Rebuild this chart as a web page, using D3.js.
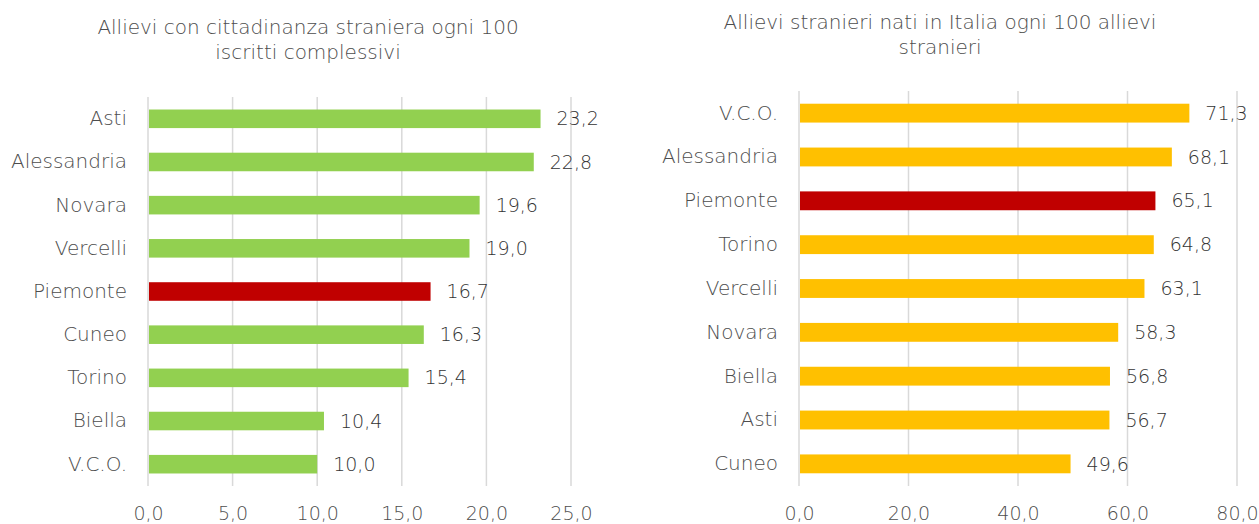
<!DOCTYPE html>
<html>
<head>
<meta charset="utf-8">
<script src="https://cdn.jsdelivr.net/npm/d3@7"></script>
<style>
  body { margin: 0; background: #fff; }
  text { font-family: "DejaVu Sans", sans-serif; font-weight: 200; }
</style>
</head>
<body>
<script>
// chart 1: allievi stranieri ogni 100 iscritti
var cat1 = ["Asti", "Alessandria", "Novara", "Vercelli", "Piemonte", "Cuneo", "Torino", "Biella", "V.C.O."];
var val1 = [23.2, 22.8, 19.6, 19.0, 16.7, 16.3, 15.4, 10.4, 10.0];
var ticks1 = [0, 5, 10, 15, 20, 25];
var title1 = ["Allievi con cittadinanza straniera ogni 100", "iscritti complessivi"];

// chart 2: stranieri nati in Italia ogni 100 stranieri
var cat2 = ["V.C.O.", "Alessandria", "Piemonte", "Torino", "Vercelli", "Novara", "Biella", "Asti", "Cuneo"];
var val2 = [71.3, 68.1, 65.1, 64.8, 63.1, 58.3, 56.8, 56.7, 49.6];
var ticks2 = [0, 20, 40, 60, 80];
var title2 = ["Allievi stranieri nati in Italia ogni 100 allievi", "stranieri"];

var width = 1259, height = 524;
var fmt = v => v.toFixed(1).replace(".", ",");
var font = "'DejaVu Sans', sans-serif";

var svg = d3.select("body").append("svg")
    .attr("width", width)
    .attr("height", height);

function drawChart(cfg) {
    var data = cfg.cats.map((c, i) => ({name: c, value: cfg.vals[i]}));

    var x = d3.scaleLinear()
        .domain([0, cfg.ticks[cfg.ticks.length - 1]])
        .range([cfg.x0, cfg.x1]);

    var y = d3.scaleBand()
        .domain(cfg.cats)
        .range([cfg.top, cfg.bottom])
        .paddingInner(0.57)
        .paddingOuter(0.29);

    var g = svg.append("g");

    // title
    g.append("text")
        .attr("x", cfg.titleX)
        .attr("y", cfg.titleY)
        .attr("text-anchor", "middle")
        .attr("fill", "#4d4d4d")
        .style("font-size", "20px")
        .selectAll("tspan").data(cfg.title).enter().append("tspan")
            .attr("x", cfg.titleX)
            .attr("dy", (d, i) => i == 0 ? 0 : 25)
            .text(d => d);

    // gridlines
    g.append("g")
        .selectAll("line").data(cfg.ticks).enter().append("line")
            .attr("x1", d => x(d))
            .attr("x2", d => x(d))
            .attr("y1", cfg.top)
            .attr("y2", cfg.bottom)
            .attr("stroke", "#d9d9d9")
            .attr("stroke-width", 1.5);

    // x axis
    var xAxis = d3.axisBottom(x)
        .tickValues(cfg.ticks)
        .tickFormat(fmt)
        .tickSize(0)
        .tickPadding(21);
    g.append("g")
        .attr("transform", `translate(0,${cfg.bottom})`)
        .call(xAxis)
        .call(a => a.select(".domain").remove())
        .call(a => a.selectAll("text")
            .attr("fill", "#4d4d4d")
            .style("font-size", "19px")
            .style("font-family", font)
            .style("font-weight", 200));

    // y axis
    var yAxis = d3.axisLeft(y).tickSize(0).tickPadding(21);
    g.append("g")
        .attr("transform", `translate(${cfg.x0},0)`)
        .call(yAxis)
        .call(a => a.select(".domain").remove())
        .call(a => a.selectAll("text")
            .attr("fill", "#4d4d4d")
            .style("font-size", "20px")
            .style("font-family", font)
            .style("font-weight", 200));

    // bars
    g.append("g")
        .selectAll("rect").data(data).enter().append("rect")
            .attr("x", x(0) + 1)
            .attr("y", d => y(d.name))
            .attr("width", d => x(d.value) - x(0) - 1)
            .attr("height", y.bandwidth())
            .attr("fill", d => d.name == "Piemonte" ? "#c00000" : cfg.color);

    // value labels
    g.append("g")
        .selectAll("text").data(data).enter().append("text")
            .attr("x", d => x(d.value) + 16)
            .attr("y", d => y(d.name) + y.bandwidth() / 2)
            .attr("dy", "0.35em")
            .attr("fill", "#333333")
            .style("font-size", "19px")
            .text(d => fmt(d.value));
}

drawChart({cats: cat1, vals: val1, ticks: ticks1, title: title1, color: "#92d050",
    x0: 148, x1: 571, top: 97, bottom: 486, titleX: 308, titleY: 34});
drawChart({cats: cat2, vals: val2, ticks: ticks2, title: title2, color: "#ffc000",
    x0: 799, x1: 1237, top: 91, bottom: 486, titleX: 940, titleY: 29});
</script>
</body>
</html>
